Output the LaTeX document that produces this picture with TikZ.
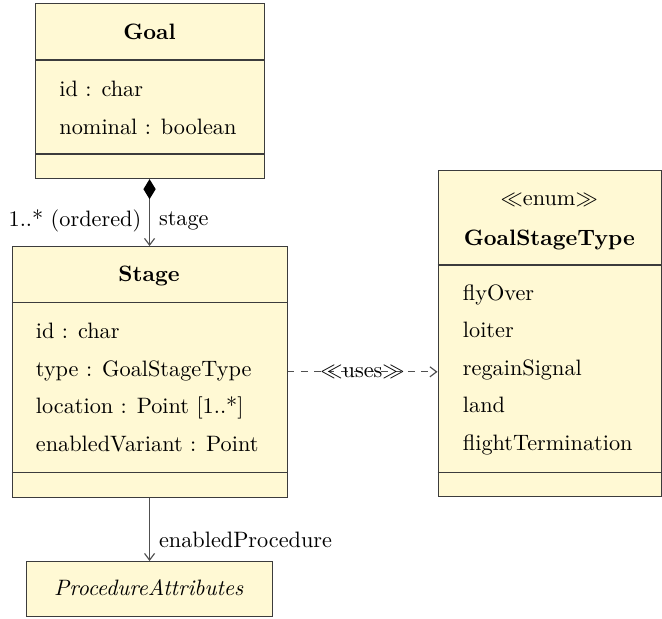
\documentclass[tikz,border=0pt]{standalone}
\usetikzlibrary{arrows.meta}
\definecolor{classfill}{RGB}{255,249,212}
\definecolor{classline}{RGB}{60,60,60}
\newlength{\pxunit}
\setlength{\pxunit}{0.449pt}
\begin{document}
\begin{tikzpicture}[x=\pxunit,y=-\pxunit,
  classbox/.style={draw=classline,fill=classfill,line width=0.5pt,inner sep=0pt,anchor=north west},
  sepline/.style={draw=classline,line width=0.5pt},
  member/.style={anchor=base west,inner sep=0pt},
  title/.style={anchor=base,inner sep=0pt,font=\bfseries},
  link/.style={draw=classline!90,line width=0.5pt},
  openhead/.style={-{Straight Barb[length=3pt,width=4.5pt]}},
]
\useasboundingbox (0,0) rectangle (662,618);

% Goal
\node[classbox,minimum width=229\pxunit,minimum height=175\pxunit] (goal) at (35,3) {};
\draw[sepline] (35,60) -- (264,60);
\draw[sepline] (35,154) -- (264,154);
\node[title] (goalname) at (149.5,39) {Goal};
\node[member] (goalid) at (59,96.7) {id : char};
\node[member] (goalnom) at (59,134) {nominal : boolean};

% Stage
\node[classbox,minimum width=275\pxunit,minimum height=250.5\pxunit] (stage) at (11.5,246) {};
\draw[sepline] (11.5,302.5) -- (286.5,302.5);
\draw[sepline] (11.5,472.5) -- (286.5,472.5);
\node[title] (stagename) at (149,281) {Stage};
\node[member] (stid) at (35.5,338.3) {id : char};
\node[member] (sttype) at (35.5,376) {type : GoalStageType};
\node[member] (stloc) at (35.5,413.7) {location : Point [1..*]};
\node[member] (stvar) at (35.5,451.4) {enabledVariant : Point};

% GoalStageType enumeration
\node[classbox,minimum width=223.5\pxunit,minimum height=326\pxunit] (enum) at (437.5,170) {};
\draw[sepline] (437.5,265) -- (661,265);
\draw[sepline] (437.5,472.5) -- (661,472.5);
\node[anchor=base,inner sep=0pt] (enumster) at (549.25,205) {$\ll$enum$\gg$};
\node[title] (enumname) at (549.25,245) {GoalStageType};
\node[member] (lit1) at (462.5,300) {flyOver};
\node[member] (lit2) at (462.5,337.5) {loiter};
\node[member] (lit3) at (462.5,375) {regainSignal};
\node[member] (lit4) at (462.5,412.5) {land};
\node[member] (lit5) at (462.5,450) {flightTermination};

% ProcedureAttributes
\node[classbox,minimum width=245.5\pxunit,minimum height=55\pxunit] (proc) at (26,561) {};
\node[anchor=base,inner sep=0pt] (procname) at (148.75,595) {\itshape ProcedureAttributes};

% Composition Goal -> Stage
\draw[link,{Diamond[length=9pt,width=5.5pt,color=black,fill=black]}-{Straight Barb[length=3pt,width=4.5pt]}]
  (goal.south -| stage.north) -- (stage.north)
  node[pos=0.63,anchor=east,inner sep=3.5pt] (mult) {1..* (ordered)}
  node[pos=0.63,anchor=west,inner sep=4pt] (role) {stage};

% Association Stage -> ProcedureAttributes
\draw[link,openhead] (stage.south) -- (stage.south |- proc.north)
  node[pos=0.67,anchor=west,inner sep=4pt] (procrole) {enabledProcedure};

% Dependency Stage -> GoalStageType
\draw[link,openhead,dashed] (stage.east) -- (stage.east -| enum.west)
  node[midway,inner sep=0pt] (uses) {$\ll$uses$\gg$};
\end{tikzpicture}
\end{document}
